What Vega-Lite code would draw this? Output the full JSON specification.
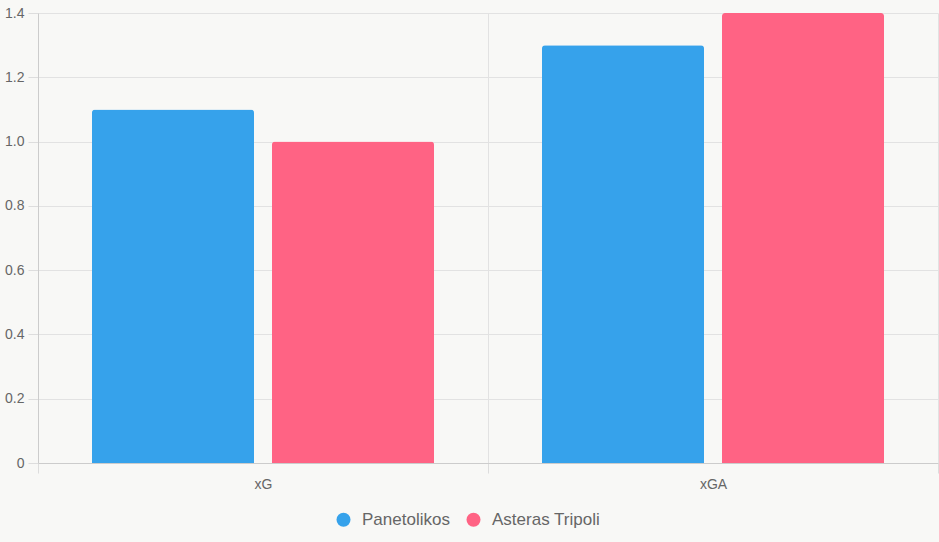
{
  "$schema": "https://vega.github.io/schema/vega-lite/v6.json",
  "autosize": "none",
  "width": 900,
  "height": 450,
  "padding": {"left": 38, "top": 13, "right": 1, "bottom": 79},
  "background": "#f8f8f6",
  "config": {
    "font": "Liberation Sans",
    "view": {"stroke": null},
    "axis": {
      "labelColor": "#666666",
      "labelFontSize": 14,
      "labelFont": "Liberation Sans",
      "gridColor": "#e2e2e2",
      "domainColor": "#cccccc",
      "tickColor": "#dddddd",
      "tickSize": 10,
      "title": null
    }
  },
  "data": {
    "values": [
      {"metric": "xG", "team": "Panetolikos", "value": 1.1},
      {"metric": "xG", "team": "Asteras Tripoli", "value": 1.0},
      {"metric": "xGA", "team": "Panetolikos", "value": 1.3},
      {"metric": "xGA", "team": "Asteras Tripoli", "value": 1.4}
    ]
  },
  "mark": {"type": "bar", "cornerRadiusTopLeft": 3, "cornerRadiusTopRight": 3},
  "encoding": {
    "x": {
      "field": "metric",
      "type": "nominal",
      "sort": ["xG", "xGA"],
      "scale": {"paddingInner": 0, "paddingOuter": 0},
      "axis": {"labelAngle": 0, "tickBand": "extent", "grid": true, "labelPadding": 4, "domainColor": "#cccccc"}
    },
    "xOffset": {
      "field": "team",
      "type": "nominal",
      "sort": ["Panetolikos", "Asteras Tripoli"],
      "scale": {"paddingInner": 0.1, "paddingOuter": 0.3}
    },
    "y": {
      "field": "value",
      "type": "quantitative",
      "scale": {"domain": [0, 1.4], "nice": false},
      "axis": {"values": [0, 0.2, 0.4, 0.6, 0.8, 1.0, 1.2, 1.4], "labelExpr": "datum.value === 0 ? '0' : format(datum.value, '.1f')", "labelPadding": 4}
    },
    "color": {
      "field": "team",
      "type": "nominal",
      "sort": ["Panetolikos", "Asteras Tripoli"],
      "scale": {"domain": ["Panetolikos", "Asteras Tripoli"], "range": ["#36a2eb", "#ff6384"]},
      "legend": {
        "title": null,
        "orient": "none",
        "direction": "horizontal",
        "legendX": 297,
        "legendY": 498,
        "symbolType": "circle",
        "symbolSize": 196,
        "symbolStrokeWidth": 0,
        "labelFontSize": 17,
        "labelColor": "#666666",
        "labelOffset": 10,
        "columnPadding": 15
      }
    }
  }
}
